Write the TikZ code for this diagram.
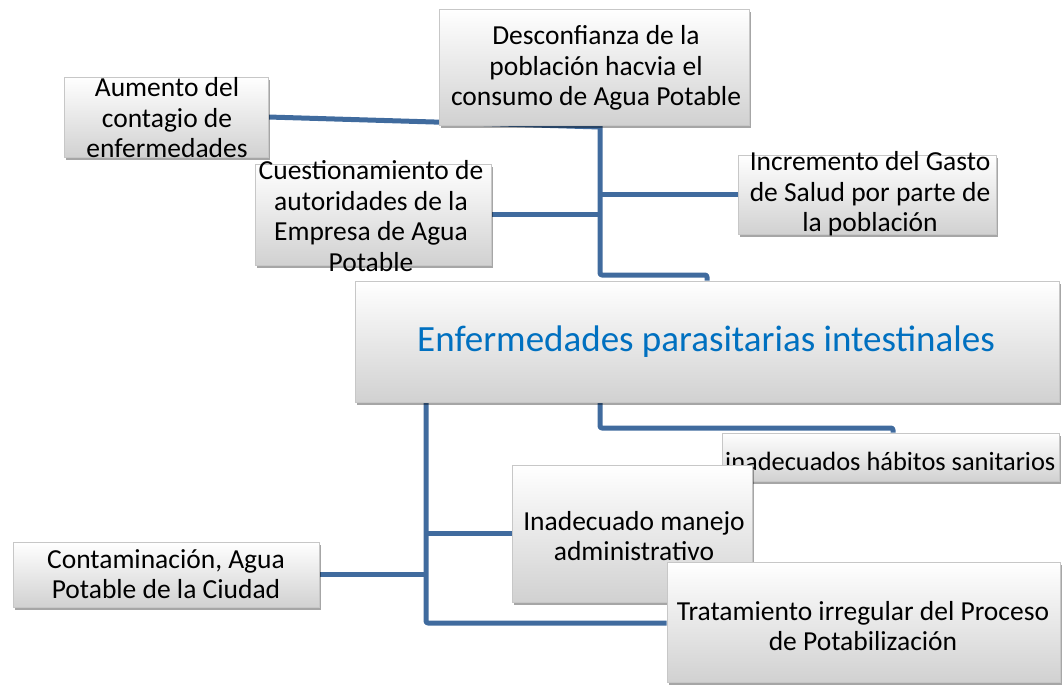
\documentclass[tikz,border=0pt]{standalone}
\usepackage{fontspec}
\setmainfont{Carlito}
\usetikzlibrary{shadows,backgrounds}
\definecolor{conn}{RGB}{64,107,158}
\definecolor{maintext}{RGB}{0,112,192}
\tikzset{
  box/.style={rectangle, draw=black!22, line width=0.6pt, top color=white, bottom color=black!18,
    drop shadow={shadow xshift=2pt, shadow yshift=-3pt, opacity=0.35, fill=black}, inner sep=0pt},
  txt/.style={align=center, inner sep=0pt, font=\fontsize{27.5}{30.5}\selectfont},
  conline/.style={draw=conn, line width=5pt, rounded corners=2pt, line join=round}
}
\begin{document}
\begin{tikzpicture}[x=1pt,y=-1pt]
\useasboundingbox (0,0) rectangle (1062,686);
% boxes and texts (in drawing order)
\node[box, minimum width=310, minimum height=116] (bD) at (594,67) {};
\node[txt] (tD) at (596,68) {Desconfianza de la\\población hacvia el\\consumo de Agua Potable};
\node[box, minimum width=204, minimum height=80] (bA) at (166,117) {};
\node[txt] (tA) at (167,118) {Aumento del\\contagio de\\enfermedades};
\node[box, minimum width=236, minimum height=101] (bC) at (373,214.5) {};
\node[txt] (tC) at (371,216) {Cuestionamiento de\\autoridades de la\\Empresa de Agua\\Potable};
\node[box, minimum width=258, minimum height=79] (bI) at (867,194.5) {};
\node[txt] (tI) at (870,194) {Incremento del Gasto\\de Salud por parte de\\la población};
\node[box, minimum width=704, minimum height=121] (bM) at (707,341.5) {};
\node[txt, font=\fontsize{37}{44}\selectfont, text=maintext] (tM) at (706,342) {Enfermedades parasitarias intestinales};
\node[box, minimum width=337, minimum height=48] (bH) at (890.5,457) {};
\node[txt, anchor=west, font=\fontsize{26.4}{30}\selectfont] (tH) at (725,461) {inadecuados hábitos sanitarios};
\node[box, minimum width=240, minimum height=137] (bN) at (632,533.5) {};
\node[txt] (tN) at (634,536) {Inadecuado manejo\\administrativo};
\node[box, minimum width=306, minimum height=65] (bK) at (166,574.5) {};
\node[txt] (tK) at (166,574) {Contaminación, Agua\\Potable de la Ciudad};
\node[box, minimum width=393, minimum height=120] (bT) at (863.5,622) {};
\node[txt] (tT) at (863,626) {Tratamiento irregular del Proceso\\de Potabilización};
% connectors behind the boxes
\begin{scope}[on background layer]
\coordinate (j1) at (600,127);
\coordinate (j2) at (600,275);
\coordinate (j3) at (707,275);
\coordinate (j4) at (600,428);
\coordinate (j5) at (893,428);
\coordinate (j6) at (426,623);
\draw[conline] (bA.east) -- (j1);
\draw[conline] (bD.south -| j1) -- (j2) -- (j3) -- (j3 |- bM.north);
\draw[conline] (bC.east) -- (bC.east -| j1);
\draw[conline] (bI.west -| j1) -- (bI.west);
\draw[conline] (bM.south -| j4) -- (j4) -- (j5) -- (j5 |- bH.north);
\draw[conline] (bM.south -| j6) -- (j6) -- (bT.west |- j6);
\draw[conline] (bN.west -| j6) -- (bN.west);
\draw[conline] (bK.east) -- (bK.east -| j6);
\end{scope}
\end{tikzpicture}
\end{document}
